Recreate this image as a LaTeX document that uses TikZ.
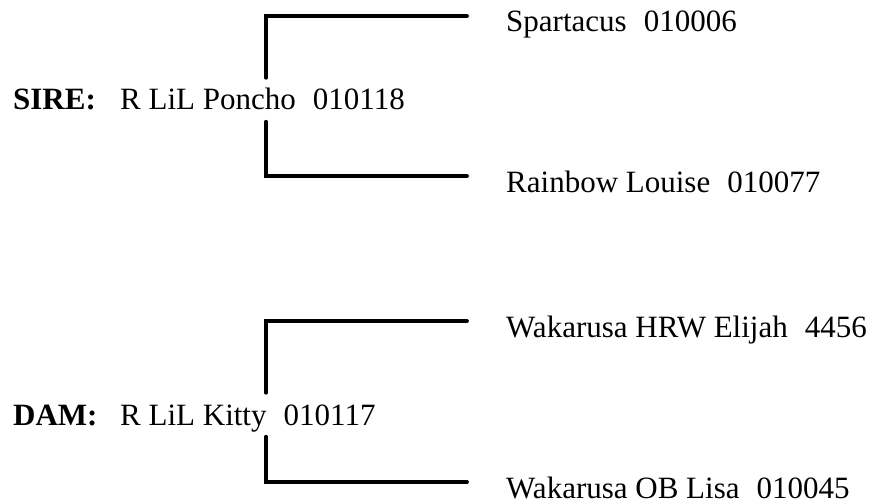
\documentclass[tikz,border=0pt]{standalone}
\usepackage{fontspec}
\setmainfont{Liberation Serif}
\usetikzlibrary{calc}
\newcommand{\pedfont}{\fontsize{31pt}{37pt}\selectfont}
\newcommand{\gapsp}{\hspace{.55em}}
\tikzset{
	pedline/.style={line width=3.75pt, line cap=round},
	who/.style={anchor=base west, inner xsep=0pt, inner ysep=10pt, text height=22pt, text depth=1.5pt},
	kid/.style={anchor=base west, inner sep=0pt},
	sex/.style={anchor=base west, inner sep=0pt, font=\pedfont\bfseries}
}

\begin{document}
\begin{tikzpicture}[x=1pt, y=-1pt, font=\pedfont]
	\useasboundingbox (0,0) rectangle (881,503);
	\coordinate (fork) at (266,0);
	% sire side
	\node[sex] (sire) at (13,110) {SIRE:};
	\node[who] (poncho) at (120,110) {R LiL Poncho\gapsp 010118};
	\node[kid] (spartacus) at (506,32) {Spartacus\gapsp 010006};
	\node[kid] (rainbow) at (506,192) {Rainbow Louise\gapsp 010077};
	\draw[pedline] (poncho.north -| fork) |- ($(spartacus.base west)+(-39,-16)$);
	\draw[pedline] (poncho.south -| fork) |- ($(rainbow.base west)+(-39,-16)$);
	% dam side
	\node[sex] (dam) at (13,425) {DAM:};
	\node[who] (kitty) at (120,425) {R LiL Kitty\gapsp 010117};
	\node[kid] (elijah) at (506,337) {Wakarusa HRW Elijah\gapsp 4456};
	\node[kid] (lisa) at (506,498) {Wakarusa OB Lisa\gapsp 010045};
	\draw[pedline] (kitty.north -| fork) |- ($(elijah.base west)+(-39,-16)$);
	\draw[pedline] (kitty.south -| fork) |- ($(lisa.base west)+(-39,-16)$);
\end{tikzpicture}
\end{document}
